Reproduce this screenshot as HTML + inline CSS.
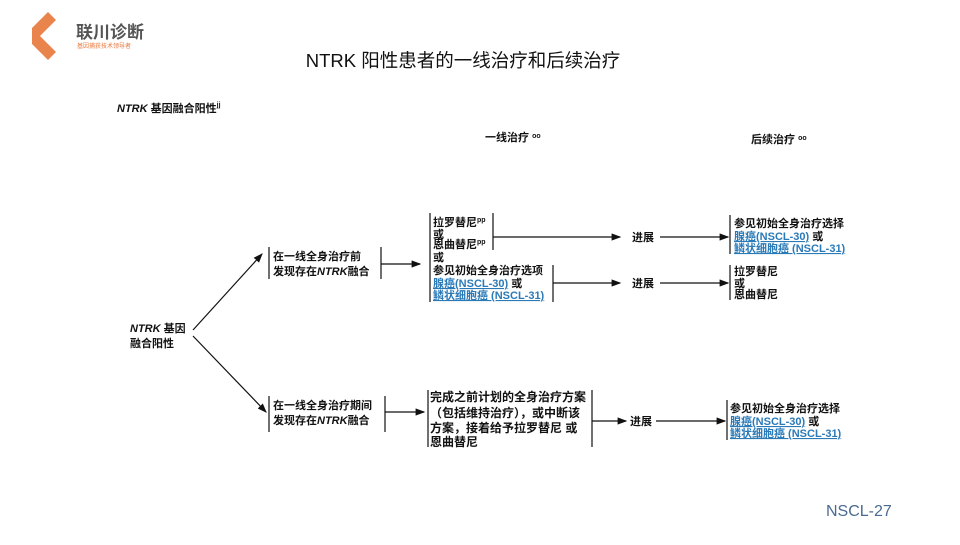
<!DOCTYPE html>
<html><head><meta charset="utf-8"><style>
html,body{margin:0;padding:0;background:#fff;}
svg text{font-family:"Liberation Sans","Noto Sans CJK SC",sans-serif;}
</style></head><body>
<svg width="960" height="540" viewBox="0 0 960 540" xmlns="http://www.w3.org/2000/svg">
<defs><marker id="a" markerWidth="8" markerHeight="6" refX="7" refY="3" orient="auto"><path d="M0,0 L8,3 L0,6 z" fill="#111"/></marker></defs>
<!-- logo -->
<g transform="translate(48,36)">
<path d="M0,0 L16,-16 L24,-8 L8,8 L24,24 L16,32 L0,16" transform="translate(-16,-8)" fill="#e8773a" opacity="0.9"/>
<path d="M-6,0 L4,-10 L9,-5 L4,0 L9,5 L4,10 z" fill="#fff"/>
</g>
<text x="76" y="38" font-size="17" font-weight="bold" fill="#555">联川诊断</text>
<text x="77" y="48" font-size="6" fill="#e8773a">基因捕获技术领导者</text>
<text x="463" y="67" font-size="18.5" text-anchor="middle" fill="#111">NTRK 阳性患者的一线治疗和后续治疗</text>
<g font-size="11" font-weight="bold" fill="#111">
<text x="117" y="112"><tspan font-style="italic">NTRK</tspan> 基因融合阳性<tspan font-size="7" dy="-5">jj</tspan></text>
<text x="485" y="141">一线治疗 <tspan font-size="7" dy="-3">oo</tspan></text>
<text x="751" y="143">后续治疗 <tspan font-size="7" dy="-3">oo</tspan></text>
<text x="130" y="332"><tspan font-style="italic">NTRK</tspan> 基因</text>
<text x="130" y="347">融合阳性</text>
<text x="273" y="260">在一线全身治疗前</text>
<text x="273" y="275">发现存在<tspan font-style="italic">NTRK</tspan>融合</text>
<text x="433" y="226">拉罗替尼<tspan font-size="7" dy="-4">pp</tspan></text>
<text x="433" y="238">或</text>
<text x="433" y="248">恩曲替尼<tspan font-size="7" dy="-4">pp</tspan></text>
<text x="433" y="261">或</text>
<text x="433" y="274">参见初始全身治疗选项</text>
<text x="433" y="287"><tspan fill="#2a7ab8" text-decoration="underline">腺癌(NSCL-30)</tspan>   或</text>
<text x="433" y="299" fill="#2a7ab8" text-decoration="underline">鳞状细胞癌 (NSCL-31)</text>
<text x="632" y="241">进展</text>
<text x="632" y="287">进展</text>
<text x="734" y="227">参见初始全身治疗选择</text>
<text x="734" y="240"><tspan fill="#2a7ab8" text-decoration="underline">腺癌(NSCL-30)</tspan>   或</text>
<text x="734" y="252" fill="#2a7ab8" text-decoration="underline">鳞状细胞癌 (NSCL-31)</text>
<text x="734" y="275">拉罗替尼</text>
<text x="734" y="287">或</text>
<text x="734" y="298">恩曲替尼</text>
<text x="273" y="409">在一线全身治疗期间</text>
<text x="273" y="424">发现存在<tspan font-style="italic">NTRK</tspan>融合</text>
<text x="430" y="401" font-size="12">完成之前计划的全身治疗方案</text>
<text x="430" y="417" font-size="12">（包括维持治疗），或中断该</text>
<text x="430" y="432" font-size="12">方案，接着给予拉罗替尼 或</text>
<text x="430" y="446" font-size="12">恩曲替尼</text>
<text x="630" y="425">进展</text>
<text x="730" y="412">参见初始全身治疗选择</text>
<text x="730" y="425"><tspan fill="#2a7ab8" text-decoration="underline">腺癌(NSCL-30)</tspan>   或</text>
<text x="730" y="437" fill="#2a7ab8" text-decoration="underline">鳞状细胞癌 (NSCL-31)</text>
</g>
<g stroke="#111" stroke-width="1.2" fill="none">
<line x1="193" y1="330" x2="262" y2="254" marker-end="url(#a)"/>
<line x1="193" y1="336" x2="266" y2="412" marker-end="url(#a)"/>
<line x1="269" y1="247" x2="269" y2="279"/><line x1="381" y1="247" x2="381" y2="279"/>
<line x1="381" y1="264" x2="420" y2="264" marker-end="url(#a)"/>
<line x1="430" y1="213" x2="430" y2="302"/>
<line x1="493" y1="213" x2="493" y2="250"/>
<line x1="553" y1="265" x2="553" y2="302"/>
<line x1="493" y1="237" x2="620" y2="237" marker-end="url(#a)"/>
<line x1="553" y1="283" x2="620" y2="283" marker-end="url(#a)"/>
<line x1="660" y1="237" x2="728" y2="237" marker-end="url(#a)"/>
<line x1="660" y1="283" x2="728" y2="283" marker-end="url(#a)"/>
<line x1="730" y1="215" x2="730" y2="254"/>
<line x1="730" y1="265" x2="730" y2="300"/>
<line x1="269" y1="396" x2="269" y2="432"/><line x1="385" y1="396" x2="385" y2="432"/>
<line x1="385" y1="412" x2="424" y2="412" marker-end="url(#a)"/>
<line x1="428" y1="390" x2="428" y2="447"/><line x1="592" y1="390" x2="592" y2="447"/>
<line x1="592" y1="421" x2="626" y2="421" marker-end="url(#a)"/>
<line x1="656" y1="421" x2="725" y2="421" marker-end="url(#a)"/>
<line x1="727" y1="400" x2="727" y2="440"/>
</g>
<text x="826" y="516" font-size="16" fill="#4a6a90">NSCL-27</text>
</svg>
</body></html>
